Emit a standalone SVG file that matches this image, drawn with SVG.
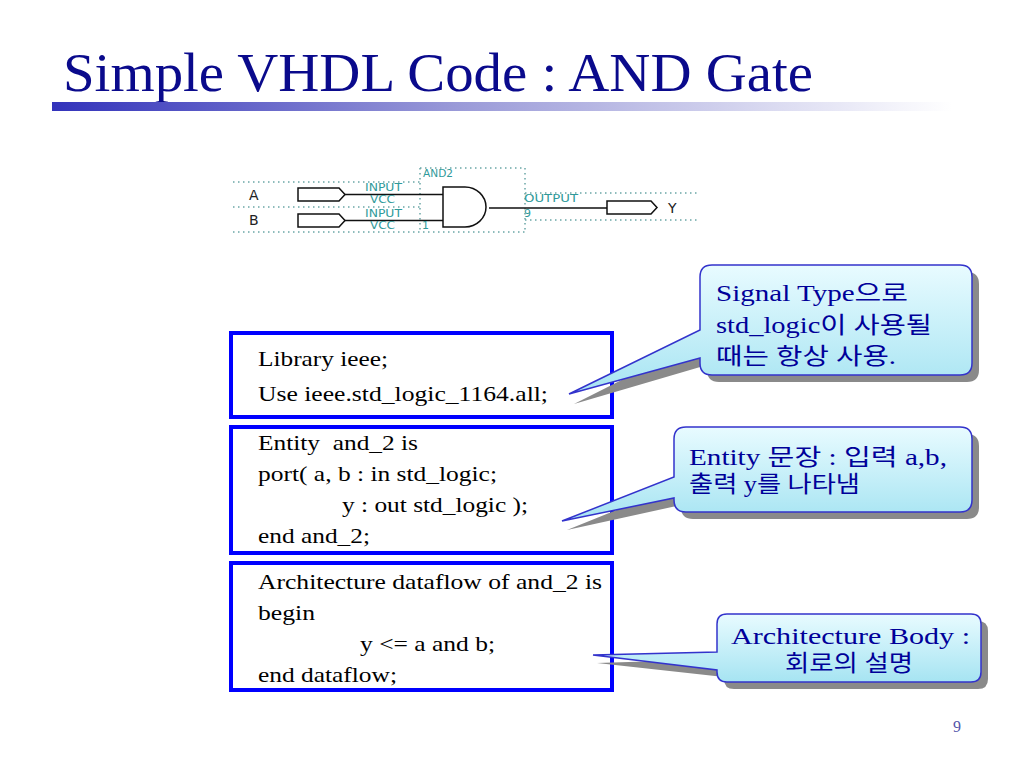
<svg xmlns="http://www.w3.org/2000/svg" width="1024" height="768" viewBox="0 0 1024 768">
<defs>
<linearGradient id="bar" x1="0" y1="0" x2="1" y2="0">
<stop offset="0" stop-color="#3333bb"/>
<stop offset="0.45" stop-color="#9a9ad8"/>
<stop offset="1" stop-color="#ffffff"/>
</linearGradient>
<linearGradient id="callfill" x1="0" y1="0" x2="0" y2="1">
<stop offset="0" stop-color="#e8fbff"/>
<stop offset="1" stop-color="#a6e4f2"/>
</linearGradient>
<style>
.title{font-family:"Liberation Serif","Times New Roman",serif;font-size:54px;fill:#0a0a8c}
.code{font-family:"Liberation Serif","Times New Roman",serif;font-size:22px;fill:#000}
.box{fill:#fff;stroke:#0000ff;stroke-width:4}
.call{fill:url(#callfill);stroke:#3333cc;stroke-width:1.5}
.shadow{fill:#8a8a8a}
.ctext{font-family:"Liberation Serif","Noto Sans CJK KR",serif;font-size:23px;fill:#000099}
.dot{fill:none;stroke:#6aa6a6;stroke-width:1.5;stroke-dasharray:1.5 3.5}
.wire{fill:none;stroke:#111;stroke-width:1.5}
.pin{fill:#fff;stroke:#111;stroke-width:1.5}
.lbl{font-family:"DejaVu Sans",sans-serif;font-size:11px;fill:#2f9a9a}
.sig{font-family:"DejaVu Sans",sans-serif;font-size:14px;fill:#222}
</style>
</defs>
<rect width="1024" height="768" fill="#fff"/>

<g id="title">
<text class="title" x="63" y="91" textLength="750" lengthAdjust="spacingAndGlyphs">Simple VHDL Code : AND Gate</text>
<rect x="52" y="102" width="900" height="9" fill="url(#bar)"/>
</g>

<g id="circuit">
<path class="dot" d="M233,182 H420 M233,207 H420 M233,232 H525 M420,168 H525 M420,168 V232 M525,168 V232 M525,193 H700 M525,220 H700"/>
<text class="sig" x="249" y="200">A</text>
<text class="sig" x="249" y="225">B</text>
<path class="pin" d="M298,188 H339 L345,194.5 L339,201 H298 Z"/>
<path class="pin" d="M298,214 H339 L345,220.5 L339,227 H298 Z"/>
<path class="wire" d="M345,194.5 H443 M345,220.5 H443 M489,208 H607"/>
<path class="pin" d="M443,187 H465 A21,20 0 0 1 465,227 H443 Z"/>
<path class="pin" d="M607,201 H651 L657,207.5 L651,214 H607 Z"/>
<text class="sig" x="668" y="213">Y</text>
<text class="lbl" x="365" y="191" textLength="37" lengthAdjust="spacingAndGlyphs">INPUT</text>
<text class="lbl" x="370" y="203" textLength="25" lengthAdjust="spacingAndGlyphs">VCC</text>
<text class="lbl" x="365" y="217" textLength="37" lengthAdjust="spacingAndGlyphs">INPUT</text>
<text class="lbl" x="370" y="229" textLength="25" lengthAdjust="spacingAndGlyphs">VCC</text>
<text class="lbl" x="423" y="177" textLength="30" lengthAdjust="spacingAndGlyphs">AND2</text>
<text class="lbl" x="524" y="202" textLength="54" lengthAdjust="spacingAndGlyphs">OUTPUT</text>
<text class="lbl" x="524" y="217" font-size="9">9</text>
<text class="lbl" x="422" y="229">1</text>
</g>

<g id="code1">
<rect class="box" x="231" y="333" width="381" height="84"/>
<text class="code" x="258" y="366" textLength="130" lengthAdjust="spacingAndGlyphs">Library ieee;</text>
<text class="code" x="258" y="401" textLength="290" lengthAdjust="spacingAndGlyphs">Use ieee.std_logic_1164.all;</text>
</g>

<g id="code2">
<rect class="box" x="231" y="427" width="381" height="126"/>
<text class="code" x="258" y="450" textLength="160" lengthAdjust="spacingAndGlyphs" xml:space="preserve">Entity  and_2 is</text>
<text class="code" x="258" y="481" textLength="239" lengthAdjust="spacingAndGlyphs">port( a, b : in std_logic;</text>
<text class="code" x="342" y="512" textLength="186" lengthAdjust="spacingAndGlyphs">y : out std_logic );</text>
<text class="code" x="258" y="543" textLength="112" lengthAdjust="spacingAndGlyphs">end and_2;</text>
</g>

<g id="code3">
<rect class="box" x="231" y="563" width="381" height="127"/>
<text class="code" x="258" y="589" textLength="344" lengthAdjust="spacingAndGlyphs">Architecture dataflow of and_2 is</text>
<text class="code" x="258" y="620" textLength="57" lengthAdjust="spacingAndGlyphs">begin</text>
<text class="code" x="360" y="651" textLength="135" lengthAdjust="spacingAndGlyphs">y &lt;= a and b;</text>
<text class="code" x="258" y="682" textLength="139" lengthAdjust="spacingAndGlyphs">end dataflow;</text>
</g>

<g id="callout1">
<path class="shadow" d="M719,272 H967 Q979,272 979,284 V370 Q979,382 967,382 H719 Q707,382 707,370 V365 L574,404 L707,337 V284 Q707,272 719,272 Z"/>
<path class="call" d="M712,265 H960 Q972,265 972,277 V363 Q972,375 960,375 H712 Q700,375 700,363 V358 L569,394 L700,330 V277 Q700,265 712,265 Z"/>
<text class="ctext" x="716" y="301" textLength="192" lengthAdjust="spacingAndGlyphs">Signal Type으로</text>
<text class="ctext" x="716" y="333" textLength="216" lengthAdjust="spacingAndGlyphs">std_logic이 사용될</text>
<text class="ctext" x="716" y="364" textLength="180" lengthAdjust="spacingAndGlyphs">때는 항상 사용.</text>
</g>

<g id="callout2">
<path class="shadow" d="M693,434 H967 Q979,434 979,446 V507 Q979,519 967,519 H693 Q681,519 681,507 V505 L567,530 L681,484 V446 Q681,434 693,434 Z"/>
<path class="call" d="M686,427 H960 Q972,427 972,439 V500 Q972,512 960,512 H686 Q674,512 674,500 V498 L562,521 L674,477 V439 Q674,427 686,427 Z"/>
<text class="ctext" x="689" y="465" textLength="258" lengthAdjust="spacingAndGlyphs">Entity 문장 : 입력 a,b,</text>
<text class="ctext" x="689" y="492" textLength="171" lengthAdjust="spacingAndGlyphs">출력 y를 나타냄</text>
</g>

<g id="callout3">
<path class="shadow" d="M734,621 H978 Q988,621 988,631 V679 Q988,689 978,689 H734 Q724,689 724,679 V677 L597,663 L724,659 V631 Q724,621 734,621 Z"/>
<path class="call" d="M727,614 H971 Q981,614 981,624 V672 Q981,682 971,682 H727 Q717,682 717,672 V670 L593,655 L717,652 V624 Q717,614 727,614 Z"/>
<text class="ctext" x="731" y="644" textLength="239" lengthAdjust="spacingAndGlyphs">Architecture Body :</text>
<text class="ctext" x="785" y="671" textLength="128" lengthAdjust="spacingAndGlyphs">회로의 설명</text>
</g>

<text x="957" y="732" font-family="Liberation Serif, serif" font-size="16" fill="#5555aa" text-anchor="middle">9</text>
</svg>
